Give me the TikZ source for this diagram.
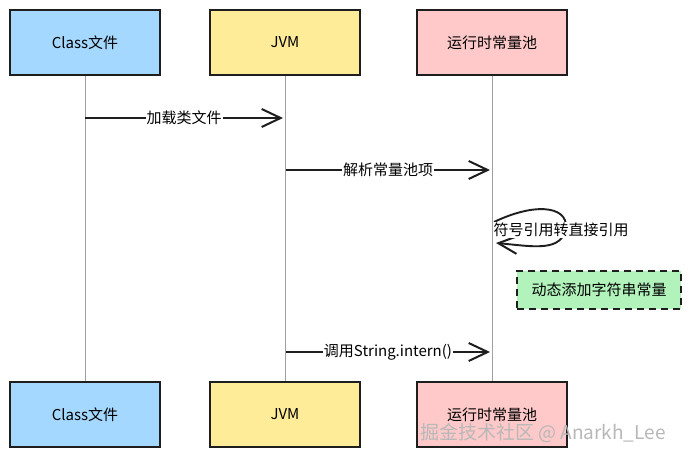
\documentclass[tikz,border=0pt]{standalone}
\usepackage{fontspec}
\setmainfont{Noto Sans CJK SC}
\usetikzlibrary{arrows.meta,positioning}
\definecolor{cblue}{HTML}{A5D8FF}
\definecolor{cyellow}{HTML}{FFEC99}
\definecolor{cpink}{HTML}{FFC9C9}
\definecolor{cgreen}{HTML}{B2F2BB}
\definecolor{cstroke}{HTML}{1E1E1E}
\definecolor{cline}{HTML}{A0A0A0}
\begin{document}
\begin{tikzpicture}[x=1pt,y=-1pt,
  actor/.style={draw=cstroke,line width=1.8pt,minimum width=150pt,minimum height=65pt,inner sep=0pt,font=\fontsize{15}{17}\selectfont},
  lifeline/.style={draw=cline,line width=0.9pt},
  msg/.style={draw=cstroke,line width=1.9pt,-{Straight Barb[length=19pt,width=18pt,line width=2pt]}},
  lbl/.style={fill=white,inner sep=1pt,font=\fontsize{15}{17}\selectfont},
  notebox/.style={draw=cstroke,line width=1.8pt,dash pattern=on 7pt off 5pt,fill=cgreen,minimum width=164pt,minimum height=38pt,inner sep=0pt,font=\fontsize{15}{17}\selectfont}]
\useasboundingbox (0,0) rectangle (691,457);
\fill[white] (0,0) rectangle (691,457);
% top actors
\node[actor,fill=cblue]   (ct) at (85,42.5)  {Class文件};
\node[actor,fill=cyellow] (jt) at (285,42.5) {JVM};
\node[actor,fill=cpink]   (pt) at (492,42.5) {运行时常量池};
% bottom actors
\node[actor,fill=cblue]   (cb) at (85,414.5)  {Class文件};
\node[actor,fill=cyellow] (jb) at (285,414.5) {JVM};
\node[actor,fill=cpink]   (pb) at (492,414.5) {运行时常量池};
% lifelines
\draw[lifeline] (ct.south) -- (cb.north);
\draw[lifeline] (jt.south) -- (jb.north);
\draw[lifeline] (pt.south) -- (pb.north);
% message anchor points
\coordinate (m1s) at (85,118);  \coordinate (m1e) at (283,118);
\coordinate (m2s) at (286,170); \coordinate (m2e) at (490,170);
\coordinate (m4s) at (286,352); \coordinate (m4e) at (490,352);
\draw[msg] (m1s) -- node[lbl] {加载类文件} (m1e);
\draw[msg] (m2s) -- node[lbl] {解析常量池项} (m2e);
\draw[msg] (m4s) -- node[lbl] {调用String.intern()} (m4e);
% self message
\coordinate (s1) at (494,222);
\coordinate (s2) at (496,243);
\draw[msg] (s1) .. controls (540,200) and (572,208) .. (565,232)
  .. controls (558,252) and (530,246) .. (s2);
\node[lbl,fill=white] (selflbl) at (561,230) {符号引用转直接引用};
% note
\node[notebox] (note) at (599,290) {动态添加字符串常量};
% watermark
\node[text=black!28,font=\fontsize{19}{21}\selectfont,inner sep=0pt] (wm) at (543,433) {掘金技术社区 @ Anarkh\_Lee};
\end{tikzpicture}
\end{document}
